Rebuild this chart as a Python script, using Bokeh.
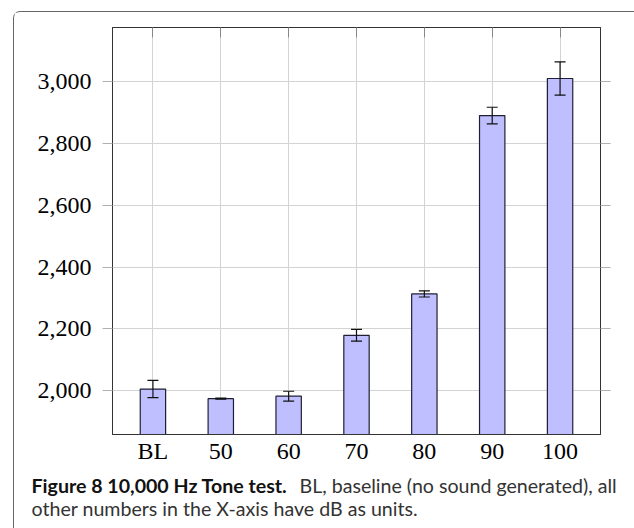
from bokeh.plotting import figure
from bokeh.layouts import column
from bokeh.models import (ColumnDataSource, Whisker, TeeHead, NumeralTickFormatter,
                          FixedTicker, LinearAxis, CategoricalAxis, Label, FactorRange, Range1d,
                          CustomJSTickFormatter)
from bokeh.embed import file_html
from bokeh.resources import INLINE

categories = ["BL", "50", "60", "70", "80", "90", "100"]
means = [2005, 1974, 1982, 2179, 2313, 2890, 3010]
errors = [28, 2, 16, 19, 10, 27, 54]
y_ticks = [2000, 2200, 2400, 2600, 2800, 3000]
caption_bold = "Figure 8 10,000 Hz Tone test."
caption_rest_1 = "BL, baseline (no sound generated), all"
caption_rest_2 = "other numbers in the X-axis have dB as units."

upper = [m + e for m, e in zip(means, errors)]
lower = [m - e for m, e in zip(means, errors)]
src = ColumnDataSource(dict(cat=categories, mean=means, upper=upper, lower=lower))

W = 621
p = figure(x_range=FactorRange(factors=categories, range_padding=0.0274),
           y_range=Range1d(1858, 3175),
           width=W, height=459, output_backend="svg", toolbar_location=None,
           min_border_left=98, min_border_right=35, min_border_top=15, min_border_bottom=37)
p.frame_align = False
p.background_fill_color = "white"
p.border_fill_color = "white"
p.outline_line_color = "#333333"
p.outline_line_width = 1

GRID = "#d3d3d3"
p.xgrid.grid_line_color = GRID
p.ygrid.grid_line_color = GRID
p.ygrid.ticker = FixedTicker(ticks=y_ticks)

SERIF = "Liberation Serif"
ya = p.yaxis[0]
ya.ticker = FixedTicker(ticks=y_ticks)
ya.formatter = NumeralTickFormatter(format="0,0")
ya.major_tick_out = 10
ya.major_tick_in = 0
ya.minor_tick_line_color = None
ya.major_tick_line_color = "#b0b0b0"
ya.axis_line_color = "#333333"
ya.major_label_text_font = SERIF
ya.major_label_text_font_size = "24px"
ya.major_label_text_color = "black"
ya.major_label_standoff = 11

xa = p.xaxis[0]
xa.major_tick_in = 0
xa.major_tick_out = 0
xa.axis_line_color = "#333333"
xa.major_label_text_font = SERIF
xa.major_label_text_font_size = "24px"
xa.major_label_text_color = "black"
xa.major_label_standoff = 3

ra = LinearAxis(ticker=FixedTicker(ticks=y_ticks), major_tick_out=10, major_tick_in=0,
                major_tick_line_color="#b0b0b0", minor_tick_line_color=None,
                axis_line_color="#333333",
                major_label_overrides={t: "" for t in y_ticks})
p.add_layout(ra, "right")
ta = CategoricalAxis(major_tick_out=0, major_tick_in=10, major_tick_line_color="#888888",
                     axis_line_color="#333333",
                     formatter=CustomJSTickFormatter(code="return ''"))
p.add_layout(ta, "above")

p.vbar(x="cat", top="mean", bottom=0, width=0.374, source=src,
       fill_color="#bfbfff", line_color="#1f1f33", line_width=1.2)

p.add_layout(Whisker(source=src, base="cat", upper="upper", lower="lower",
                     line_color="#111111", line_width=1.2, level="annotation",
                     upper_head=TeeHead(size=11, line_color="#111111", line_width=1.2),
                     lower_head=TeeHead(size=11, line_color="#111111", line_width=1.2)))

# caption panel
CH = 58
c = figure(width=W, height=CH, output_backend="svg", toolbar_location=None,
           x_range=Range1d(0, W), y_range=Range1d(0, CH),
           min_border=0, min_border_left=0, min_border_right=0,
           min_border_top=0, min_border_bottom=0)
c.frame_align = False
c.axis.visible = False
c.grid.visible = False
c.outline_line_color = None
c.background_fill_color = "white"
c.border_fill_color = "white"

SANS = "Lato"
FS = "19.6px"
c.add_layout(Label(x=17, y=44, x_units="screen", y_units="screen", text=caption_bold,
                   text_font=SANS, text_font_style="bold", text_font_size=FS,
                   text_color="#111111", text_baseline="alphabetic"))
c.add_layout(Label(x=285, y=44, x_units="screen", y_units="screen", text=caption_rest_1,
                   text_font=SANS, text_font_size=FS,
                   text_color="#333333", text_baseline="alphabetic"))
c.add_layout(Label(x=17, y=21, x_units="screen", y_units="screen", text=caption_rest_2,
                   text_font=SANS, text_font_size=FS,
                   text_color="#333333", text_baseline="alphabetic"))

layout = column(p, c, spacing=0, margin=(11, 0, 0, 13),
                styles={"border-top": "1.3px solid #666", "border-left": "1.3px solid #666",
                        "border-top-left-radius": "7px"})

open("out.html", "w").write(file_html(layout, INLINE))
